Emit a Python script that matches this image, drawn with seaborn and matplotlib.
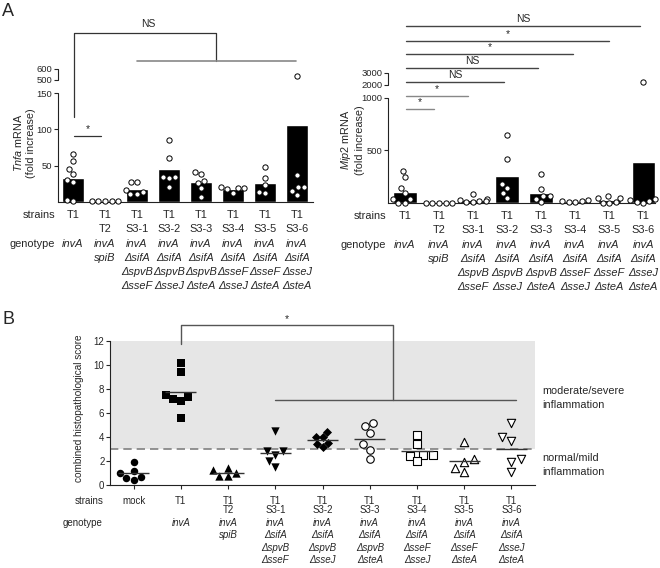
import numpy as np
import pandas as pd
import seaborn as sns
import matplotlib
matplotlib.use("Agg")
import matplotlib.pyplot as plt

# ---- panel A data ----
strain_keys = ["T1", "T2", "S3-1", "S3-2", "S3-3", "S3-4", "S3-5", "S3-6"]
strain_rows = [["T1"], ["T1", "T2"], ["T1", "S3-1"], ["T1", "S3-2"],
               ["T1", "S3-3"], ["T1", "S3-4"], ["T1", "S3-5"], ["T1", "S3-6"]]
genotypes = [["invA"], ["invA", "spiB"],
             ["invA", "ΔsifA", "ΔspvB", "ΔsseF"],
             ["invA", "ΔsifA", "ΔspvB", "ΔsseJ"],
             ["invA", "ΔsifA", "ΔspvB", "ΔsteA"],
             ["invA", "ΔsifA", "ΔsseF", "ΔsseJ"],
             ["invA", "ΔsifA", "ΔsseF", "ΔsteA"],
             ["invA", "ΔsifA", "ΔsseJ", "ΔsteA"]]

tnfa = [[66, 56, 46, 39, 30, 27, 3, 1],
        [1.5, 1, 1, 1, 1],
        [28, 27, 16.5, 14, 10.5, 10.5],
        [85, 61, 35, 35, 33, 20],
        [41, 38.5, 29, 26.5, 19, 7],
        [21, 19, 19, 17.5, 13],
        [48, 33, 23, 14, 12],
        [535, 37, 20, 20, 15.5, 10]]

mip2 = [[306, 250, 140, 94, 34, 34, 0, 0],
        [2, 2, 2, 2, 2],
        [81, 41, 25, 16, 16, 9, 5],
        [650, 416, 181, 140, 94, 47],
        [275, 134, 62, 62, 37, 5],
        [25, 18, 15, 12, 10],
        [62, 50, 50, 5, 4, 3],
        [2225, 40, 25, 16, 9, 3]]

# ---- panel B data ----
histo_keys = ["mock"] + strain_keys
histo_strain_rows = [["mock"]] + strain_rows
histo_genotypes = [[]] + genotypes
histo = [[1.9, 1.2, 1.0, 0.7, 0.4, 0.6],
         [10.2, 9.4, 7.2, 7.0, 7.5, 7.3, 5.6],
         [1.0, 1.45, 0.75, 1.25, 0.75],
         [4.5, 2.8, 2.85, 2.5, 2.0, 1.5],
         [4.4, 4.0, 4.0, 3.5, 3.15, 3.4],
         [5.15, 4.95, 4.35, 3.4, 2.9, 2.15],
         [4.15, 3.4, 2.5, 2.5, 2.45, 2.0],
         [3.55, 2.15, 1.95, 1.4, 1.1],
         [5.2, 4.0, 3.7, 2.2, 1.95, 1.05]]
histo_markers = ["o", "s", "^", "v", "D", "o", "s", "^", "v"]
histo_filled = [True, True, True, True, True, False, False, False, False]

sns.set_style("ticks")
plt.rcParams["font.family"] = ["Liberation Sans", "DejaVu Sans"]
plt.rcParams["mathtext.fontset"] = "custom"
plt.rcParams["mathtext.rm"] = "Liberation Sans"
plt.rcParams["mathtext.it"] = "Liberation Sans:italic"
plt.rcParams["axes.linewidth"] = 0.8
plt.rcParams["axes.edgecolor"] = "#222222"


def to_long(keys, groups):
    return pd.DataFrame([(k, v) for k, g in zip(keys, groups) for v in g],
                        columns=["strain", "value"])


def piecewise(xs, ys):
    xs, ys = np.asarray(xs, float), np.asarray(ys, float)
    s0 = (ys[1] - ys[0]) / (xs[1] - xs[0])
    s1 = (ys[-1] - ys[-2]) / (xs[-1] - xs[-2])

    def f(v):
        v = np.asarray(v, float)
        out = np.interp(v, xs, ys)
        out = np.where(v < xs[0], ys[0] + (v - xs[0]) * s0, out)
        out = np.where(v > xs[-1], ys[-1] + (v - xs[-1]) * s1, out)
        return out
    return f


def px(v):
    return v * 0.72  # pixels -> points at 100 dpi


fig = plt.figure(figsize=(6.6, 5.68), dpi=100)
axL = fig.add_axes([0.0879, 0.6444, 0.3864, 0.2342])
axR = fig.add_axes([0.5879, 0.6426, 0.4045, 0.2289])
axB = fig.add_axes([0.1667, 0.1461, 0.644, 0.2535])

a_rows = [13, 27]
a_geno = [42, 56, 70, 84]
fs_a = 7.9


def draw_a(ax, groups, kraw, kt, yticks, segments, width, xlim, ytop):
    df = to_long(strain_keys, groups)
    sns.barplot(data=df, x="strain", y="value", order=strain_keys,
                errorbar=None, color="black", saturation=1, width=width,
                ax=ax, zorder=1)
    ax.set_yscale("function", functions=(piecewise(kraw, kt), piecewise(kt, kraw)))
    ax.set_ylim(0, ytop)
    ax.set_xlim(*xlim)
    sns.swarmplot(data=df, x="strain", y="value", order=strain_keys,
                  color="white", edgecolor="black", linewidth=0.7, size=3.8,
                  ax=ax, zorder=3)
    ax.set_xlim(*xlim)
    ax.set_ylim(0, ytop)
    for c in ax.collections:
        c.set_clip_on(False)
    ax.set_yticks(yticks)
    ax.set_yticklabels([str(t) for t in yticks], fontsize=6.8)
    ax.yaxis.set_minor_locator(matplotlib.ticker.NullLocator())
    ax.set_xlabel("")
    ax.set_ylabel("")
    ax.tick_params(axis="y", length=3, width=0.8, pad=1)
    ax.tick_params(axis="x", length=0, labelbottom=False)
    for s in ["top", "right", "left"]:
        ax.spines[s].set_visible(False)
    ytr = ax.get_yaxis_transform()
    for lo, hi in segments:
        ax.plot([0, 0], [lo, hi], transform=ytr, color="#222222", lw=0.8,
                clip_on=False)
    xtr = ax.get_xaxis_transform()
    for i, rows in enumerate(strain_rows):
        for j, t in enumerate(rows):
            ax.annotate(t, xy=(i, 0), xycoords=xtr, xytext=(0, -px(a_rows[j])),
                        textcoords="offset points", ha="center", va="center",
                        fontsize=fs_a)
        for j, t in enumerate(genotypes[i]):
            ax.annotate(t, xy=(i, 0), xycoords=xtr, xytext=(0, -px(a_geno[j])),
                        textcoords="offset points", ha="center", va="center",
                        fontsize=fs_a, style="italic")
    ax.annotate("strains", xy=(-0.56, 0), xycoords=xtr, xytext=(0, -px(a_rows[0])),
                textcoords="offset points", ha="right", va="center", fontsize=fs_a)
    ax.annotate("genotype", xy=(-0.56, 0), xycoords=xtr, xytext=(0, -px(a_geno[0])),
                textcoords="offset points", ha="right", va="center", fontsize=fs_a)
    return xtr


# ---- A left: Tnfa ----
xtr = draw_a(axL, tnfa, [0, 150, 500, 600], [0, 150, 168, 183.2],
             [50, 100, 150, 500, 600], [(0, 150), (500, 600)], 0.67, (-0.47, 7.5), 600)
dark = "#333333"
axL.plot([0.03, 0.03, 4.47, 4.47], [0.639, 1.271, 1.271, 1.06], transform=xtr,
         color=dark, lw=0.9, clip_on=False)
axL.plot([2.0, 6.97], [1.06, 1.06], transform=xtr, color="#888888", lw=1.2, clip_on=False)
axL.text(2.34, 1.30, "NS", transform=xtr, ha="center", va="bottom", fontsize=7.5)
axL.plot([0.03, 0.88], [0.496, 0.496], transform=xtr, color=dark, lw=0.9, clip_on=False)
axL.text(0.47, 0.51, "*", transform=xtr, ha="center", va="bottom", fontsize=7.5)

# ---- A right: Mip2 ----
xtr = draw_a(axR, mip2, [0, 1000, 2000, 3000], [0, 1000, 1124, 1238],
             [500, 1000, 2000, 3000], [(0, 1000), (2000, 3000)], 0.68, (-0.5, 7.35), 3000)
sig_y = [0.723, 0.823, 0.931, 1.038, 1.146, 1.246, 1.362]
sig_end = [0.85, 1.85, 2.9, 3.9, 4.95, 6.0, 6.9]
sig_lab = ["*", "*", "NS", "NS", "*", "*", "NS"]
for k, (yy, xe, lab) in enumerate(zip(sig_y, sig_end, sig_lab)):
    col = "#888888" if k < 2 else "#444444"
    axR.plot([0.03, xe], [yy, yy], transform=xtr, color=col, lw=1.0, clip_on=False)
    axR.text((0.03 + xe) / 2, yy + 0.012, lab, transform=xtr, ha="center",
             va="bottom", fontsize=7.5)

fig.text(24 / 660, 1 - 143 / 568, r"$\mathit{Tnfa}$ mRNA" + "\n(fold increase)",
         rotation=90, ha="center", va="center", multialignment="center", fontsize=7.8)
fig.text(352 / 660, 1 - 140 / 568, r"$\mathit{Mip2}$ mRNA" + "\n(fold increase)",
         rotation=90, ha="center", va="center", multialignment="center", fontsize=7.8)

# ---- B ----
axB.axhspan(3, 12, color="#e6e6e6", zorder=0, lw=0)
axB.axhline(3, color="#808080", lw=1.2, dashes=(5, 3), zorder=1)
df_b = to_long(histo_keys, histo)
sizes = {"o": 5.4, "s": 5.4, "^": 6.0, "v": 6.0, "D": 4.6}
for key, m, filled in zip(histo_keys, histo_markers, histo_filled):
    sub = df_b[df_b["strain"] == key]
    if filled:
        kw = dict(color="black", linewidth=0)
    else:
        kw = dict(color="white", edgecolor="black", linewidth=0.8)
    sns.swarmplot(data=sub, x="strain", y="value", order=histo_keys, marker=m,
                  size=sizes[m], ax=axB, zorder=3, **kw)
means = df_b.groupby("strain", sort=False)["value"].mean().reindex(histo_keys)
pos = np.arange(len(histo_keys))
axB.hlines(means.values, pos - 0.33, pos + 0.33, color="#333333", lw=1.0, zorder=4)
axB.set_xlim(-0.5, 8.5)
axB.set_ylim(0, 12)
axB.set_yticks(range(0, 13, 2))
axB.set_yticklabels([str(t) for t in range(0, 13, 2)], fontsize=7)
axB.set_xticks(pos)
axB.tick_params(axis="x", length=3, width=0.8, labelbottom=False)
axB.tick_params(axis="y", length=3, width=0.8, pad=1)
axB.set_xlabel("")
axB.set_ylabel("")
for s in ["top", "right"]:
    axB.spines[s].set_visible(False)

xtrb = axB.get_xaxis_transform()
b_rows = [16, 25]
b_geno = [38, 50, 63, 75]
fs_b = 7.0
for i, rows in enumerate(histo_strain_rows):
    for j, t in enumerate(rows):
        axB.annotate(t, xy=(i, 0), xycoords=xtrb, xytext=(0, -px(b_rows[j])),
                     textcoords="offset points", ha="center", va="center", fontsize=fs_b)
    for j, t in enumerate(histo_genotypes[i]):
        axB.annotate(t, xy=(i, 0), xycoords=xtrb, xytext=(0, -px(b_geno[j])),
                     textcoords="offset points", ha="center", va="center",
                     fontsize=fs_b, style="italic")
axB.annotate("strains", xy=(-0.63, 0), xycoords=xtrb, xytext=(0, -px(b_rows[0])),
             textcoords="offset points", ha="right", va="center", fontsize=fs_b)
axB.annotate("genotype", xy=(-0.66, 0), xycoords=xtrb, xytext=(0, -px(b_geno[0])),
             textcoords="offset points", ha="right", va="center", fontsize=fs_b)

axB.plot([1.0, 1.0, 5.5, 5.5], [11.75, 13.3, 13.3, 7.08], color="#555555", lw=1.0,
         clip_on=False)
axB.plot([3.0, 8.1], [7.08, 7.08], color="#555555", lw=1.0, clip_on=False)
axB.text(3.25, 13.4, "*", ha="center", va="bottom", fontsize=7.5)

ytrb = axB.get_yaxis_transform()
axB.text(1.016, 7.25, "moderate/severe\ninflammation", transform=ytrb, ha="left",
         va="center", fontsize=7.8, linespacing=1.5)
axB.text(1.016, 1.63, "normal/mild\ninflammation", transform=ytrb, ha="left",
         va="center", fontsize=7.8, linespacing=1.5)
fig.text(79 / 660, 1 - 408 / 568, "combined histopathological score", rotation=90,
         ha="center", va="center", fontsize=7.2)

fig.text(8 / 660, 1 - 12 / 568, "A", fontsize=13, ha="center", va="center")
fig.text(8 / 660, 1 - 320 / 568, "B", fontsize=13, ha="center", va="center")

fig.savefig("out.png", dpi=100)
